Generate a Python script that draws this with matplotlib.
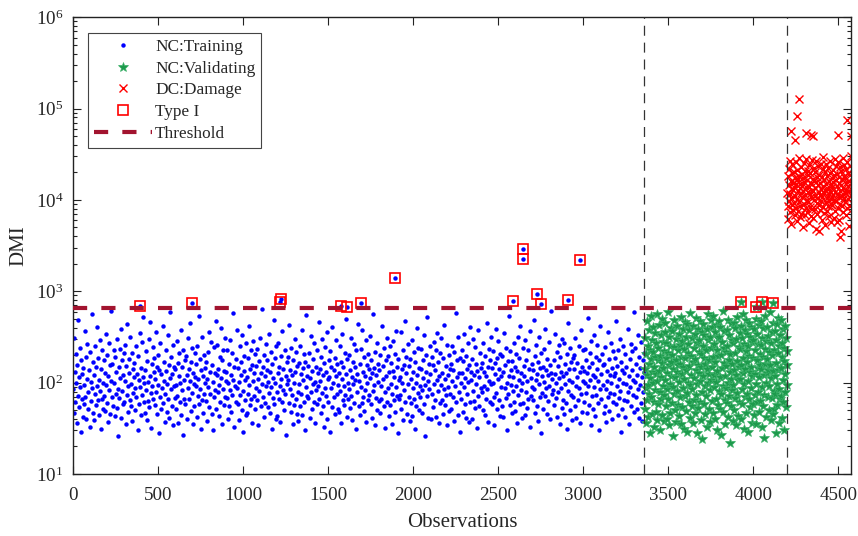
import numpy as np
import matplotlib.pyplot as plt
from matplotlib.lines import Line2D

plt.rcParams["font.family"] = ["Liberation Serif", "DejaVu Serif"]
plt.rcParams["mathtext.fontset"] = "custom"
plt.rcParams["mathtext.rm"] = "Liberation Serif"

# observation counts of each group
n_train = 3360
n_val = 840
n_dmg = 375
threshold = 662

# DMI of the training observations (every 3rd one)
train_dmi = [
    85, 310, 47, 132, 61, 205, 98, 36, 158, 72, 480, 115, 54, 240, 89, 29, 176, 66, 125, 42,
    145, 58, 95, 370, 70, 190, 40, 110, 265, 79, 52, 138, 33, 215, 102, 63, 560, 88, 168, 46,
    120, 39, 250, 75, 150, 57, 92, 410, 64, 185, 108, 44, 290, 82, 31, 140, 230, 67, 100, 51,
    71, 175, 128, 49, 340, 94, 60, 200, 37, 118, 83, 275, 155, 45, 105, 610, 69, 162, 56, 225,
    99, 43, 190, 76, 130, 300, 53, 86, 26, 147, 68, 235, 112, 41, 390, 81, 175, 59, 122, 210,
    62, 260, 104, 35, 152, 74, 440, 93, 48, 180, 127, 65, 320, 55, 96, 210, 38, 140, 78, 115,
    165, 50, 87, 255, 69, 124, 30, 196, 107, 58, 350, 90, 44, 143, 280, 73, 520, 116, 62, 98,
    46, 136, 220, 84, 39, 172, 101, 63, 300, 54, 119, 460, 77, 32, 160, 92, 245, 66, 130, 186,
    110, 57, 360, 80, 148, 45, 200, 95, 28, 138, 70, 270, 123, 52, 88, 415, 60, 170, 104, 37,
    75, 226, 133, 48, 97, 330, 66, 156, 41, 113, 590, 85, 190, 56, 125, 34, 260, 91, 149, 68,
    140, 52, 94, 285, 72, 165, 36, 118, 210, 61, 100, 44, 380, 83, 150, 27, 230, 108, 66, 175,
    58, 195, 121, 40, 305, 87, 142, 67, 450, 103, 49, 167, 78, 240, 35, 129, 96, 55, 210, 114,
    93, 160, 42, 255, 71, 110, 530, 59, 183, 86, 31, 137, 64, 320, 118, 47, 200, 76, 146, 99,
    170, 63, 109, 38, 215, 90, 355, 54, 130, 76, 280, 45, 158, 101, 30, 243, 69, 126, 84, 470,
    51, 120, 260, 79, 140, 43, 95, 190, 61, 400, 112, 35, 176, 86, 230, 57, 135, 70, 310, 105,
    132, 68, 225, 40, 98, 162, 55, 295, 84, 122, 48, 210, 74, 580, 108, 33, 150, 92, 61, 180,
    88, 375, 59, 145, 102, 39, 250, 73, 168, 120, 50, 335, 82, 29, 134, 195, 65, 106, 44, 270,
    116, 47, 185, 76, 420, 95, 142, 57, 230, 66, 36, 158, 104, 285, 72, 128, 52, 205, 88, 154,
    64, 236, 110, 34, 173, 82, 310, 126, 55, 96, 640, 70, 148, 42, 200, 117, 60, 265, 91, 137,
    175, 54, 101, 345, 77, 132, 46, 218, 89, 31, 160, 68, 112, 490, 58, 186, 98, 40, 250, 80,
    43, 129, 275, 67, 150, 92, 37, 196, 110, 62, 365, 84, 142, 50, 228, 75, 118, 27, 167, 96,
    106, 190, 60, 430, 86, 139, 48, 240, 73, 120, 35, 178, 99, 57, 300, 131, 66, 215, 45, 153,
    80, 38, 163, 97, 250, 56, 125, 76, 380, 44, 144, 108, 62, 205, 30, 170, 90, 545, 71, 118,
    154, 68, 209, 41, 113, 328, 79, 135, 52, 96, 180, 61, 272, 102, 36, 147, 83, 230, 58, 126,
    91, 460, 66, 140, 104, 47, 193, 78, 300, 121, 55, 165, 33, 88, 245, 71, 130, 40, 357, 109,
    62, 176, 116, 29, 222, 87, 150, 54, 410, 98, 137, 69, 185, 45, 118, 290, 76, 160, 51, 94,
    128, 48, 255, 81, 168, 36, 109, 340, 64, 147, 92, 57, 213, 73, 500, 123, 42, 182, 100, 67,
    199, 85, 137, 53, 310, 72, 115, 39, 170, 96, 262, 60, 150, 106, 31, 228, 79, 125, 438, 56,
    103, 160, 44, 236, 89, 60, 380, 132, 70, 190, 49, 117, 84, 290, 37, 155, 98, 65, 205, 141,
    74, 325, 112, 58, 178, 41, 126, 82, 560, 95, 145, 34, 218, 68, 120, 50, 270, 101, 160, 63,
    138, 46, 202, 93, 67, 420, 109, 152, 55, 240, 80, 32, 176, 119, 61, 312, 87, 195, 43, 130,
    57, 250, 97, 165, 76, 35, 135, 285, 64, 114, 48, 206, 89, 372, 72, 148, 28, 183, 106, 66,
    115, 74, 360, 52, 142, 100, 226, 39, 158, 83, 470, 62, 127, 190, 45, 96, 268, 70, 151, 38,
    181, 60, 110, 43, 295, 88, 130, 67, 214, 31, 167, 99, 56, 398, 121, 78, 240, 50, 145, 92,
    69, 140, 236, 84, 47, 176, 112, 330, 59, 94, 26, 201, 132, 72, 520, 104, 41, 162, 86, 255,
    124, 40, 192, 75, 155, 54, 282, 97, 136, 64, 42, 230, 107, 350, 81, 170, 36, 118, 60, 210,
    95, 305, 65, 127, 45, 188, 85, 430, 110, 57, 152, 73, 34, 260, 122, 90, 200, 49, 140, 76,
    160, 52, 103, 250, 70, 138, 38, 215, 93, 580, 61, 175, 116, 44, 320, 80, 128, 29, 187, 100,
    67, 226, 126, 48, 172, 89, 345, 58, 113, 196, 41, 142, 76, 270, 102, 37, 158, 62, 410, 132,
    108, 40, 180, 82, 300, 63, 121, 246, 53, 97, 160, 32, 134, 71, 380, 114, 55, 212, 87, 145,
    79, 165, 272, 50, 130, 92, 44, 198, 117, 66, 455, 85, 150, 37, 235, 104, 61, 176, 96, 320,
    143, 58, 99, 220, 70, 34, 166, 125, 390, 78, 52, 185, 110, 286, 65, 140, 43, 205, 89, 118,
    55, 196, 131, 42, 350, 87, 156, 68, 242, 100, 30, 172, 76, 540, 119, 57, 224, 95, 138, 46,
    172, 81, 114, 270, 62, 148, 49, 205, 93, 135, 36, 318, 73, 106, 188, 58, 420, 128, 84, 41,
    98, 240, 60, 154, 118, 44, 290, 80, 178, 104, 53, 226, 67, 140, 33, 365, 113, 72, 162, 90,
    64, 139, 480, 86, 47, 195, 107, 260, 56, 124, 38, 170, 97, 315, 69, 146, 28, 210, 117, 78,
    150, 51, 233, 101, 71, 390, 88, 137, 45, 180, 120, 63, 276, 92, 158, 40, 128, 605, 75, 110,
    84, 176, 57, 125, 342, 68, 99, 215, 42, 152, 79, 260, 112, 35, 193, 87, 130, 53, 298, 65,
    118, 45, 272, 96, 160, 60, 128, 31, 208, 81, 445, 106, 140, 50, 240, 73, 168, 102, 39, 186,
    70, 200, 142, 55, 310, 91, 41, 165, 114, 65, 255, 87, 36, 132, 380, 76, 150, 48, 225, 103,
    135, 62, 98, 236, 78, 175, 46, 126, 510, 93, 148, 57, 212, 108, 34, 283, 71, 163, 121, 52,
    89, 330, 115, 43, 190, 74, 140, 256, 60, 103, 30, 178, 85, 420, 124, 66, 205, 95, 155, 47,
    160, 55, 246, 86, 37, 135, 105, 362, 69, 182, 49, 120, 78, 275, 98, 145, 40, 220, 62, 118,
    76, 188, 128, 58, 470, 92, 152, 44, 230, 110, 68, 300, 82, 29, 170, 137, 51, 255, 100, 64,
    126, 42, 205, 97, 148, 63, 390, 80, 118, 35, 182, 90, 266, 56, 136, 220, 73, 108, 600, 48,
    101, 240, 70, 160, 52, 122, 335, 86, 192, 41, 145, 95, 60, 278, 114, 38, 175, 79, 130, 212,
]

# DMI of the validating observations (every 2nd one)
val_dmi = [
    140, 52, 310, 88, 36, 205, 470, 120, 64, 255, 95, 42, 380, 160, 75, 28, 230, 112, 540, 180,
    70, 290, 130, 45, 410, 98, 215, 33, 150, 62, 350, 190, 84, 125, 48, 270, 560, 105, 39, 175,
    240, 58, 135, 430, 80, 30, 195, 115, 330, 67, 165, 500, 44, 92, 280, 145, 38, 220, 73, 360,
    108, 450, 55, 185, 270, 40, 128, 85, 600, 210, 66, 155, 34, 320, 97, 250, 47, 170, 400, 118,
    60, 200, 365, 90, 26, 142, 245, 76, 490, 116, 50, 300, 175, 37, 82, 420, 132, 225, 57, 155,
    340, 101, 43, 260, 160, 69, 520, 35, 190, 124, 285, 54, 390, 87, 148, 31, 235, 110, 460, 72,
    185, 49, 315, 137, 78, 440, 29, 212, 100, 265, 61, 375, 152, 41, 94, 580, 198, 120, 56, 305,
    86, 420, 168, 36, 240, 113, 65, 345, 182, 47, 510, 138, 74, 28, 275, 96, 390, 158, 53, 218,
    128, 295, 62, 470, 104, 39, 205, 150, 355, 79, 24, 250, 117, 440, 58, 186, 330, 91, 45, 160,
    228, 71, 385, 140, 33, 290, 98, 560, 176, 51, 125, 320, 84, 37, 238, 480, 107, 63, 410, 150,
    46, 192, 530, 89, 265, 122, 40, 360, 170, 67, 430, 102, 30, 225, 135, 310, 57, 195, 81, 470,
    315, 115, 52, 410, 200, 75, 27, 280, 145, 610, 93, 48, 240, 165, 370, 64, 118, 35, 215, 87,
    154, 380, 60, 255, 99, 42, 490, 178, 72, 330, 130, 22, 205, 111, 450, 55, 290, 83, 160, 38,
    270, 94, 450, 136, 50, 212, 68, 395, 120, 34, 300, 172, 78, 520, 106, 43, 245, 148, 62, 350,
    110, 232, 40, 420, 158, 85, 305, 59, 188, 570, 126, 31, 265, 97, 380, 70, 142, 46, 220, 480,
    76, 345, 168, 29, 250, 103, 455, 66, 198, 132, 54, 320, 88, 410, 150, 36, 280, 117, 58, 185,
    295, 44, 390, 124, 73, 230, 500, 96, 35, 176, 340, 61, 145, 265, 80, 430, 114, 48, 205, 155,
    63, 260, 140, 470, 89, 33, 310, 190, 55, 400, 120, 74, 25, 235, 160, 540, 99, 42, 285, 127,
    180, 405, 70, 138, 325, 50, 215, 92, 600, 156, 39, 270, 112, 68, 360, 200, 45, 134, 450, 82,
    52, 230, 118, 365, 75, 28, 295, 164, 440, 97, 57, 210, 136, 510, 86, 36, 250, 146, 66, 330,
    146, 71, 480, 190, 41, 275, 106, 62, 385, 173, 30, 240, 125, 420, 79, 54, 305, 158, 95, 220,
]

# DMI of the damaged observations (every 2nd one)
dmg_dmi = [
    12000, 8500, 18500, 6200, 14500, 22000, 9800, 11500, 27000, 7300, 16000, 10500, 5400, 13200, 19800, 8900, 24500, 12800, 7800, 15500,
    9200, 20500, 13800, 6800, 17200, 11000, 26000, 8200, 14800, 5900, 21500, 10200, 16800, 7600, 12400, 29000, 9500, 18200, 13500, 6500,
    15000, 8700, 23000, 11800, 7100, 19200, 10800, 14200, 5100, 17600, 12600, 25500, 9000, 15800, 6900, 20800, 11300, 8100, 13900, 28000,
    10000, 16500, 7400, 21000, 12200, 9600, 18800, 5600, 14000, 24000, 8400, 11700, 19500, 6600, 15200, 10700, 27500, 13000, 7900, 17000,
    12700, 6300, 22500, 9900, 16200, 8000, 13600, 20000, 11100, 4800, 15600, 26500, 9300, 18000, 7000, 14600, 10400, 23500, 12100, 8800,
    19000, 11400, 7700, 15300, 25000, 9700, 13300, 6100, 17800, 10900, 21800, 8300, 14400, 29500, 11900, 7200, 16600, 12900, 5300, 20200,
    9400, 14900, 24800, 10600, 18400, 7500, 13100, 22200, 8600, 16100, 11600, 6700, 19700, 12500, 26800, 9100, 15100, 10300, 5800, 17400,
    13700, 8900, 21200, 11200, 15900, 6400, 18600, 10100, 27800, 12300, 7600, 16400, 9800, 23800, 14100, 5700, 19300, 11500, 8200, 25800,
    15400, 10800, 6000, 17900, 12600, 22800, 9000, 14700, 4600, 20600, 11000, 16900, 8500, 28500, 13400, 7300, 18100, 10500, 24200, 12000,
    9600, 17300, 13000, 6900, 21600, 11800, 15700, 8100, 26200, 10200, 19600, 14300, 5200, 16300, 12400, 23300, 8700, 18700, 11300, 30000,
]

# isolated damaged observations outside the main cluster
dmg_out_obs = [4267, 4259, 4220, 4247, 4310, 4340, 4351, 4496, 4551, 4573, 4508, 4386]
dmg_out_dmi = [129000, 82800, 57500, 45500, 54000, 51700, 50000, 51600, 75700, 50200, 3970, 4570]

# observations above the threshold (Type I errors)
train_out_obs = [394, 700, 1220, 1224, 1575, 1612, 1696, 1892, 2588, 2644, 2644, 2726, 2751, 2912, 2982]
train_out_dmi = [692, 752, 760, 819, 687, 670, 741, 1400, 791, 2910, 2280, 944, 728, 805, 2220]
val_out_obs = [3928, 4018, 4053, 4114]
val_out_dmi = [766, 675, 766, 746]

train_x = np.linspace(1, n_train, len(train_dmi))
val_x = np.linspace(n_train + 1, n_train + n_val, len(val_dmi))
dmg_x = np.linspace(n_train + n_val + 1, n_train + n_val + n_dmg, len(dmg_dmi))

blue = "#0000ff"
green = "#1d9a4c"
red = "#ff0000"
dark_red = "#a2142f"

fig = plt.figure(figsize=(8.58, 5.36), dpi=100)
ax = fig.add_axes([0.0851, 0.1157, 0.9067, 0.8520])

ax.plot(train_x, train_dmi, "o", ms=3.2, color=blue, mew=0, zorder=2)
ax.plot(train_out_obs, train_out_dmi, "o", ms=3.2, color=blue, mew=0, zorder=2)
ax.plot(val_x, val_dmi, "*", ms=7, mfc=green, mec="#3bb068", mew=0.5, zorder=2)
ax.plot(val_out_obs, val_out_dmi, "*", ms=7, mfc=green, mec="#3bb068", mew=0.5, zorder=2)
ax.plot(dmg_x, dmg_dmi, "x", ms=5.5, color=red, mew=1.0, zorder=2)
ax.plot(dmg_out_obs, dmg_out_dmi, "x", ms=5.5, color=red, mew=1.0, zorder=2)

ax.plot(train_out_obs + val_out_obs, train_out_dmi + val_out_dmi, "s", ms=7.5,
        mfc="none", mec=red, mew=1.2, zorder=3)

ax.axhline(threshold, color=dark_red, lw=3, dashes=(3.4, 3.4), zorder=4)
for xv in [n_train, n_train + n_val]:
    ax.axvline(xv, color="#333333", lw=0.9, dashes=(8, 5.5), zorder=5)

ax.set_yscale("log")
ax.set_ylim(10, 1e6)
ax.set_xlim(0, n_train + n_val + n_dmg)
ax.set_xticks(np.arange(0, 4501, 500))
ax.tick_params(axis="both", which="both", direction="in", top=True, right=True,
               labelsize=13.7, width=0.8, colors="#222222", labelcolor="#262626")
ax.tick_params(which="major", length=5.8)
ax.tick_params(which="minor", length=3.2)
ax.tick_params(axis="x", pad=9.5)
ax.tick_params(axis="y", pad=7)
for s in ax.spines.values():
    s.set_linewidth(1.0)
    s.set_color("#222222")

ax.set_xlabel("Observations", fontsize=15, color="#262626", labelpad=6)
ax.set_ylabel("DMI", fontsize=15, color="#262626", labelpad=5)

handles = [
    Line2D([], [], ls="none", marker="o", ms=3.2, color=blue, mew=0),
    Line2D([], [], ls="none", marker="*", ms=7, mfc=green, mec="#3bb068", mew=0.5),
    Line2D([], [], ls="none", marker="x", ms=5.5, color=red, mew=1.0),
    Line2D([], [], ls="none", marker="s", ms=7.5, mfc="none", mec=red, mew=1.2),
    Line2D([], [], color=dark_red, lw=3, dashes=(3.4, 3.4)),
]
labels = ["NC:Training", "NC:Validating", "DC:Damage", "Type I", "Threshold"]
leg = ax.legend(handles, labels, loc="upper left", bbox_to_anchor=(0.019, 0.966),
                borderaxespad=0, fontsize=12.4, fancybox=False, framealpha=1,
                edgecolor="#444444", handlelength=3.4, handletextpad=0.15,
                labelspacing=0.33, borderpad=0.35, numpoints=1)
leg.get_frame().set_linewidth(0.8)
for t in leg.get_texts():
    t.set_color("#262626")

fig.savefig("out.png", dpi=100)
